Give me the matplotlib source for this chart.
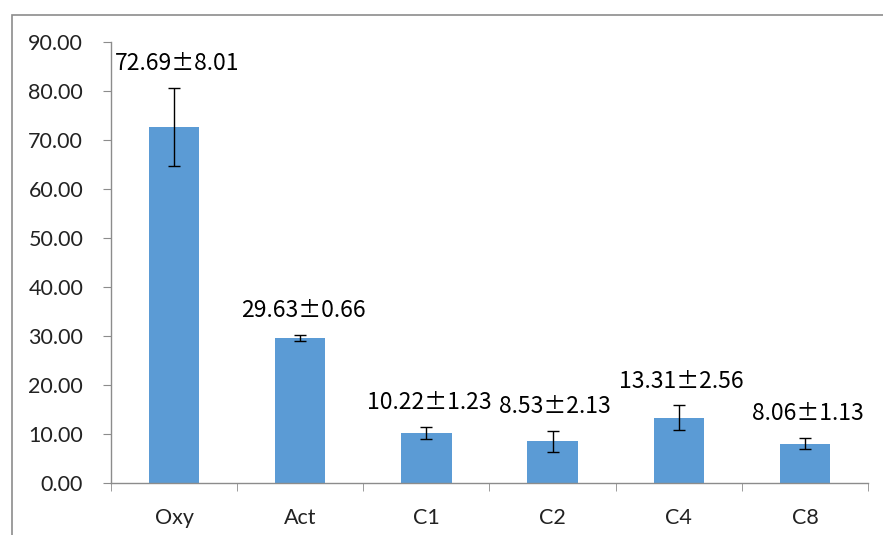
import matplotlib
matplotlib.use("Agg")
import matplotlib.pyplot as plt
from matplotlib.patches import Rectangle
from matplotlib.ticker import FixedLocator, FormatStrFormatter

plt.rcParams['font.family'] = ['Lato', 'DejaVu Sans']

categories = ["Oxy", "Act", "C1", "C2", "C4", "C8"]
means = [72.69, 29.63, 10.22, 8.53, 13.31, 8.06]
sds = [8.01, 0.66, 1.23, 2.13, 2.56, 1.13]
y_ticks = [0, 10, 20, 30, 40, 50, 60, 70, 80, 90]

W, H = 883, 535
fig = plt.figure(figsize=(W / 100, H / 100), dpi=100)
ax = fig.add_axes([111 / W, 1 - 483 / H, (868 - 111) / W, (483 - 42) / H])

# outer chart frame (extends past the right and bottom edges)
fig.patches.append(Rectangle((12 / W, -0.1), 1.2, 1 - 15 / H + 0.1,
                             transform=fig.transFigure, fill=False,
                             edgecolor="#8c8c8c", linewidth=1.2))

x = list(range(len(categories)))
ax.bar(x, means, width=0.40, color="#5B9BD5", zorder=2)
ax.errorbar(x, means, yerr=sds, fmt="none", ecolor="black",
            elinewidth=1.0, capsize=4.3, capthick=1.0, zorder=3)

for xi, m, s in zip(x, means, sds):
    ax.annotate(f"{m:.2f}±{s:.2f}", xy=(xi, m + s), xytext=(2, 9),
                textcoords="offset points", ha="center", va="bottom",
                fontsize=16.5, color="black",
                family=['Noto Sans CJK SC', 'DejaVu Sans'])

ax.set_xlim(-0.5, len(categories) - 0.5)
ax.set_ylim(0, 90)
ax.set_yticks(y_ticks)
ax.yaxis.set_major_formatter(FormatStrFormatter("%.2f"))
ax.set_xticks(x)
ax.set_xticklabels(categories)
ax.xaxis.set_minor_locator(FixedLocator([i - 0.5 for i in range(len(categories) + 1)]))

spine_c = "#8c8c8c"
for side in ("top", "right"):
    ax.spines[side].set_visible(False)
for side in ("left", "bottom"):
    ax.spines[side].set_color(spine_c)
    ax.spines[side].set_linewidth(1.0)

ax.tick_params(axis="y", direction="out", length=6, color=spine_c,
               labelsize=15.5, pad=14, labelcolor="#222222")
ax.tick_params(axis="x", which="major", length=0, labelsize=15.5, pad=18,
               labelcolor="#222222")
ax.tick_params(axis="x", which="minor", direction="out", length=6, color=spine_c)

fig.savefig("out.png", dpi=100)
